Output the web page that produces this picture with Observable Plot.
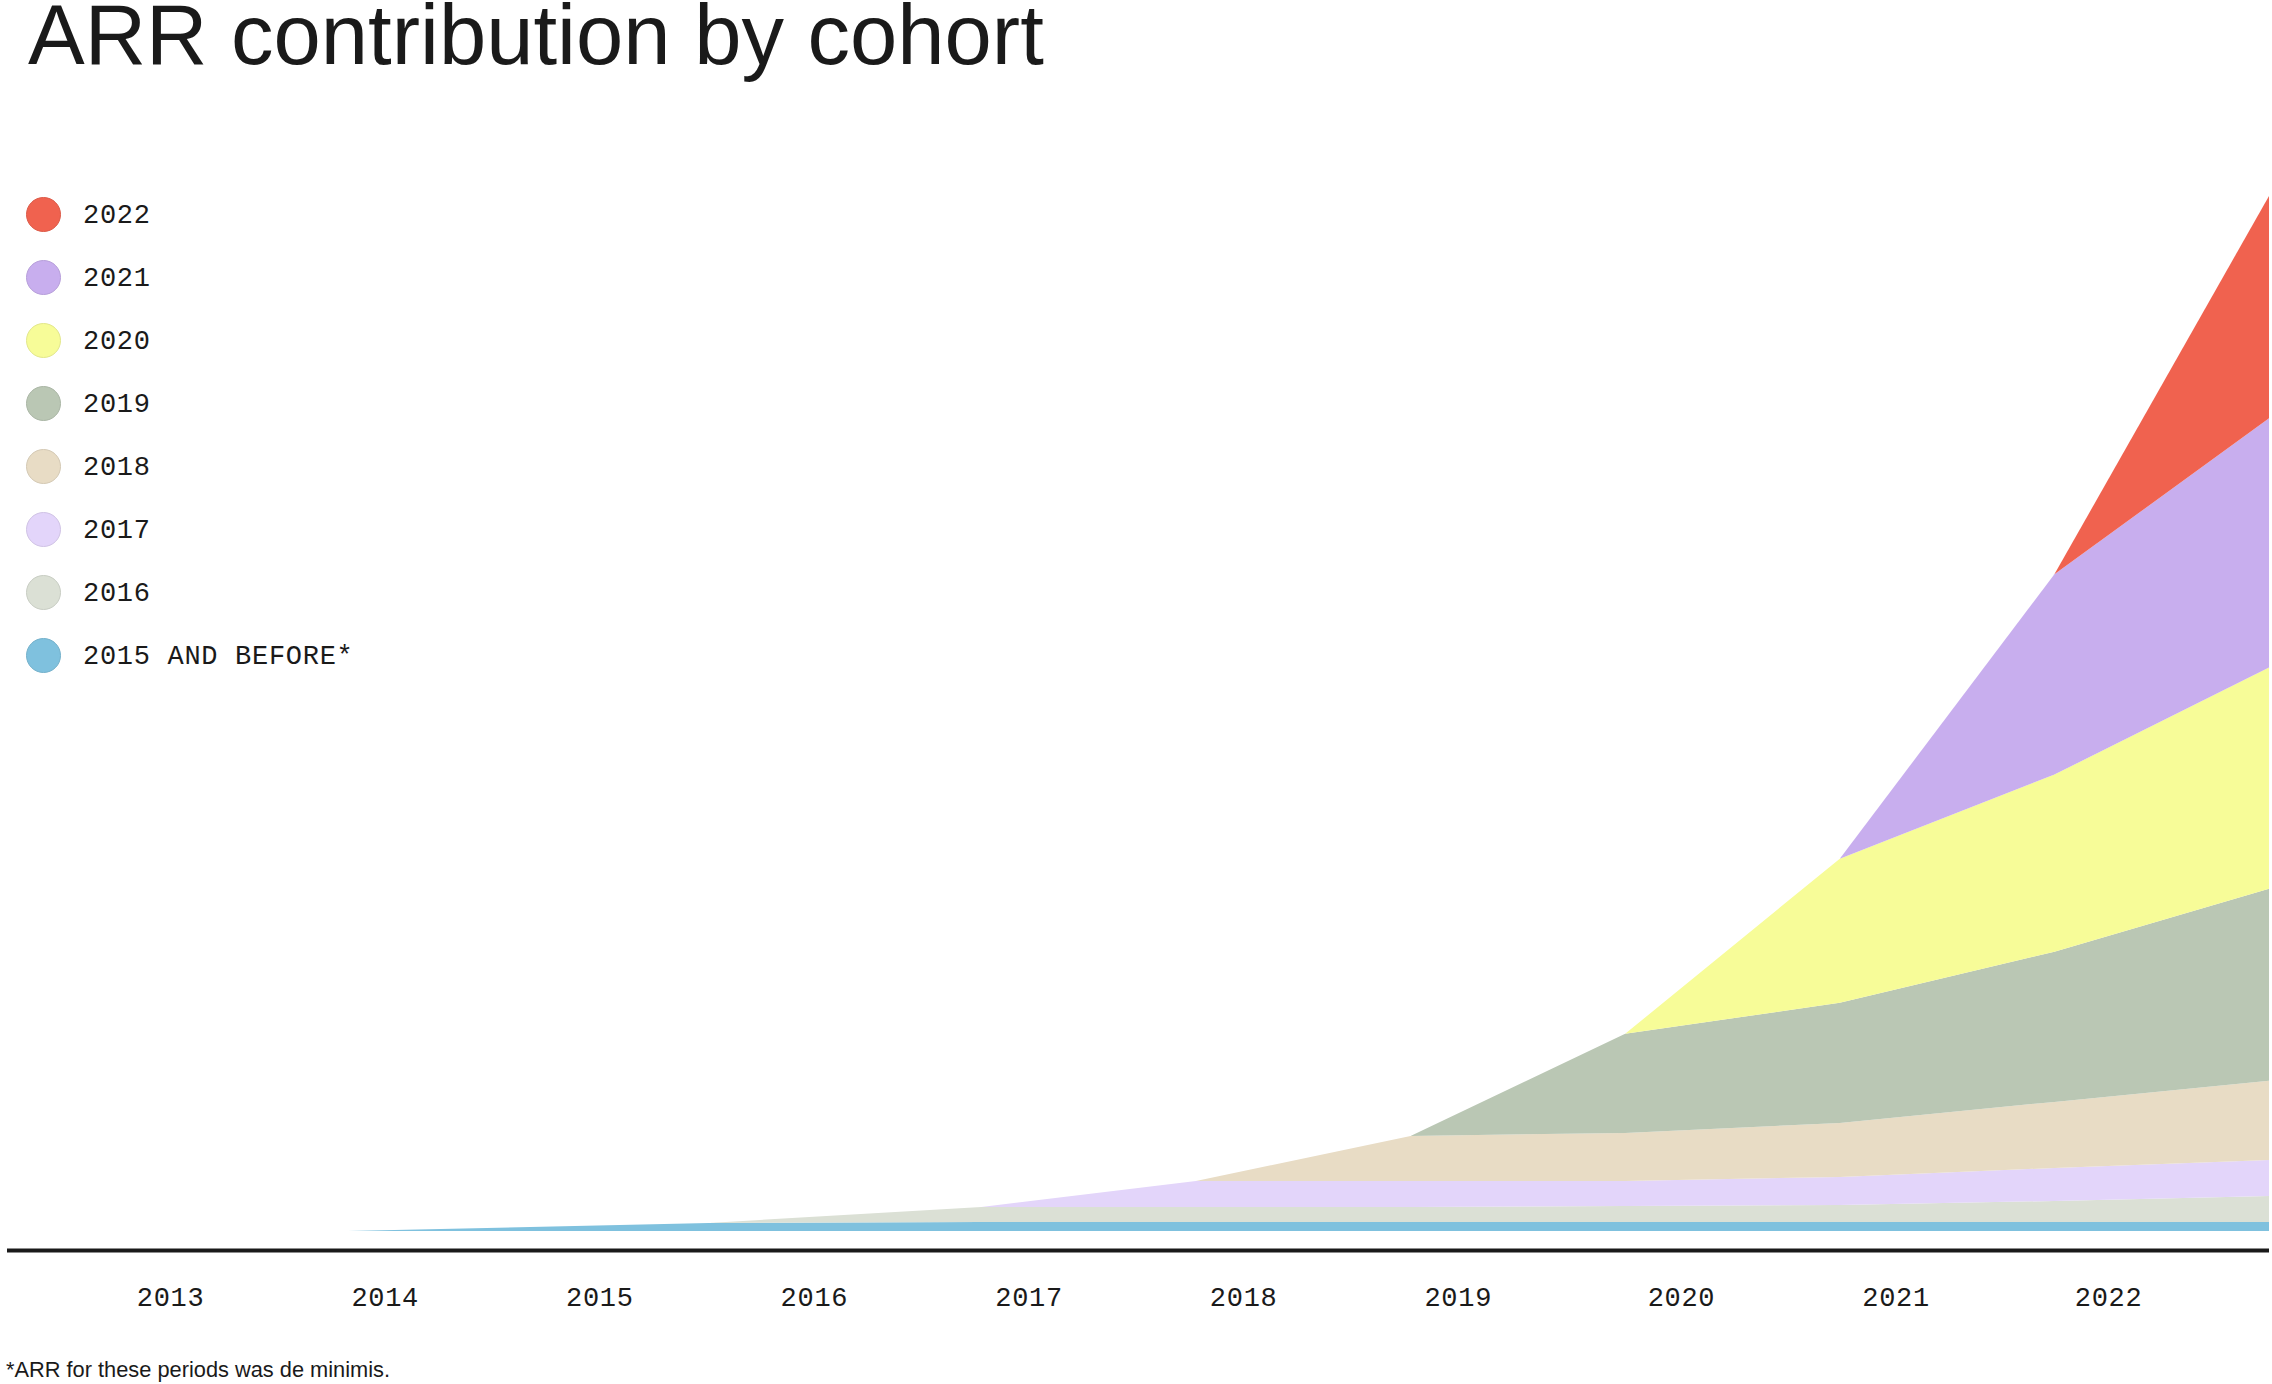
<!DOCTYPE html>
<html>
<head>
<meta charset="utf-8">
<script src="https://cdn.jsdelivr.net/npm/d3@7"></script>
<script src="https://cdn.jsdelivr.net/npm/@observablehq/plot@0.6"></script>
<style>
  html, body { margin: 0; padding: 0; background: #ffffff; }
  #page { position: relative; width: 2272px; height: 1384px; overflow: hidden; background: #fff; }
  #title { position: absolute; left: 28px; top: 0px; font-family: "Liberation Sans", Arial, sans-serif; font-size: 85px; line-height: 70px; height: 84px; color: #1a1a1a; white-space: nowrap; }
  #chart { position: absolute; left: 0; top: 100px; }
  #legend { position: absolute; left: 0; top: 0; }
  .item { position: absolute; left: 26px; height: 35px; display: flex; align-items: center; }
  .dot { width: 33px; height: 33px; border-radius: 50%; border-width: 1px; border-style: solid; box-sizing: content-box; }
  .lab { margin-left: 22px; font-family: "Liberation Mono", "DejaVu Sans Mono", monospace; font-size: 27px; line-height: 27px; letter-spacing: 0.7px; color: #1a1a1a; padding-top: 3px; white-space: nowrap; }
  #note { position: absolute; left: 6px; top: 1359px; font-family: "Liberation Sans", Arial, sans-serif; font-size: 21.8px; line-height: 21.8px; color: #1a1a1a; white-space: nowrap; }
</style>
</head>
<body>
<div id="page">
  <div id="title">ARR contribution by cohort</div>
  <div id="chart"></div>
  <div id="legend"></div>
  <div id="note">*ARR for these periods was de minimis.</div>
</div>
<script>
// ---- data (arbitrary ARR units) ----
const periods = [2013.83, 2015.51, 2016.78, 2017.78, 2018.78, 2019.78, 2020.78, 2021.78, 2022.78];
const cohorts = ["2015 AND BEFORE*", "2016", "2017", "2018", "2019", "2020", "2021", "2022"];
const colors  = ["#7FC1DE", "#DBE0D5", "#E3D5FA", "#E8DCC5", "#BAC7B4", "#F7FC98", "#C8AEEE", "#F0624F"];

const arrBefore2016 = [0,    0.8,  0.9,  0.9,  0.9,  0.9,  0.9,  0.9,  0.9];
const arr2016       = [null, 0,    1.5,  1.5,  1.5,  1.6,  1.7,  2.1,  2.6];
const arr2017       = [null, null, 0,    2.6,  2.6,  2.5,  2.8,  3.3,  3.6];
const arr2018       = [null, null, null, 0,    4.5,  4.8,  5.4,  6.6,  7.9];
const arr2019       = [null, null, null, null, 0,    9.9,  12.0, 15.0, 19.2];
const arr2020       = [null, null, null, null, null, 0,    14.4, 17.7, 22.1];
const arr2021       = [null, null, null, null, null, null, 0,    20.0, 24.9];
const arr2022       = [null, null, null, null, null, null, null, 0,    22.2];

const tickPos    = [2013, 2014, 2015, 2016, 2017, 2018, 2019, 2020.04, 2021.04, 2022.03];
const tickLabels = ["2013", "2014", "2015", "2016", "2017", "2018", "2019", "2020", "2021", "2022"];

// ---- build table ----
const series = [arrBefore2016, arr2016, arr2017, arr2018, arr2019, arr2020, arr2021, arr2022];
const table = [];
series.forEach((vals, i) => {
  vals.forEach((v, j) => {
    if (v !== null) table.push({period: periods[j], cohort: cohorts[i], value: v});
  });
});
const totals = d3.rollups(table, g => d3.sum(g, d => d.value), d => d.period).map(d => d[1]);

const chart = Plot.plot({
  width: 2272,
  height: 1240,
  marginTop: 96,
  marginBottom: 109,
  marginLeft: 7,
  marginRight: 3,
  style: {fontFamily: "Liberation Mono, DejaVu Sans Mono, monospace", fontSize: "27px", color: "#1a1a1a", background: "transparent", letterSpacing: "0.7px"},
  x: {domain: [2012.24, d3.max(periods)], axis: null},
  y: {domain: [0, d3.max(totals)], axis: null},
  color: {domain: cohorts, range: colors},
  marks: [
    Plot.areaY(table, {x: "period", y: "value", z: "cohort", fill: "cohort", order: cohorts, curve: "linear"}),
    Plot.ruleY([0], {dy: 19, stroke: "#1a1a1a", strokeWidth: 4}),
    Plot.axisX({
      ticks: tickPos,
      tickFormat: d => tickLabels[tickPos.indexOf(d)],
      tickSize: 0,
      tickPadding: 55,
      fontSize: 27,
      fill: "#1a1a1a",
      label: null
    })
  ]
});
document.getElementById("chart").appendChild(chart);

// ---- legend (top item = newest cohort) ----
const legend = d3.select("#legend");
const legendOrder = cohorts.slice().reverse();
const legendColors = colors.slice().reverse();
legendOrder.forEach((c, i) => {
  const item = legend.append("div").attr("class", "item").style("top", (197 + i * 63) + "px");
  const col = legendColors[i];
  item.append("div").attr("class", "dot")
    .style("background", col)
    .style("border-color", d3.color(col).darker(0.25).formatHex());
  item.append("div").attr("class", "lab").text(c);
});
</script>
</body>
</html>
